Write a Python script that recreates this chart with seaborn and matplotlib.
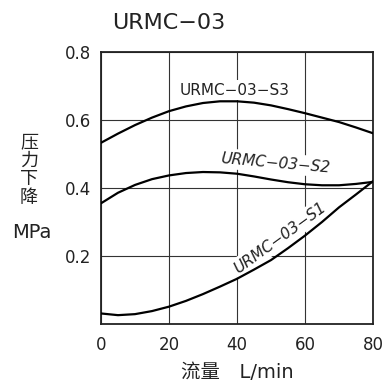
import numpy as np
import pandas as pd
import matplotlib
matplotlib.use("Agg")
import matplotlib.pyplot as plt
import seaborn as sns

# flow (L/min) and pressure drop (MPa)
flow = [0, 5, 10, 15, 20, 25, 30, 35, 40, 45, 50, 55, 60, 65, 70, 75, 80]
s3 = [0.533, 0.560, 0.585, 0.607, 0.626, 0.640, 0.650, 0.655, 0.655,
      0.651, 0.643, 0.632, 0.620, 0.607, 0.594, 0.578, 0.561]
s2 = [0.355, 0.386, 0.409, 0.426, 0.437, 0.444, 0.447, 0.446, 0.442,
      0.434, 0.425, 0.417, 0.411, 0.408, 0.408, 0.412, 0.418]
s1 = [0.031, 0.026, 0.029, 0.038, 0.051, 0.068, 0.088, 0.110, 0.133,
      0.160, 0.188, 0.223, 0.260, 0.300, 0.343, 0.381, 0.420]
series_names = ["URMC−03−S3", "URMC−03−S2", "URMC−03−S1"]
x_ticks = [0, 20, 40, 60, 80]
y_ticks = [0.2, 0.4, 0.6, 0.8]
ylabel_chars = ["压", "力", "下", "降"]

df = pd.DataFrame({
    "flow": flow * 3,
    "dp": s3 + s2 + s1,
    "series": [n for n in series_names for _ in flow],
})

sns.set_style("white")
plt.rcParams['font.family'] = ['DejaVu Sans', 'Noto Sans CJK SC']

fig = plt.figure(figsize=(3.84, 3.85), dpi=100)
ax = fig.add_axes([101 / 384, 61 / 385, 272 / 384, 272 / 385])

sns.lineplot(data=df, x="flow", y="dp", units="series", estimator=None,
             color="black", linewidth=1.6, ax=ax, zorder=3, legend=False)

ax.set_xlim(0, 80)
ax.set_ylim(0, 0.8)
ax.set_xticks(x_ticks)
ax.set_yticks(y_ticks)
ax.set_xticklabels([str(v) for v in x_ticks], fontsize=12, color="#222")
ax.set_yticklabels([f"{v:.1f}" for v in y_ticks], fontsize=12, color="#222")
ax.tick_params(length=0)
ax.tick_params(axis="x", pad=9)
ax.tick_params(axis="y", pad=7)
ax.set_axisbelow(True)
ax.grid(True, color="#333333", linewidth=0.8)
for sp in ax.spines.values():
    sp.set_color("#222")
    sp.set_linewidth(1.3)

ax.set_xlabel("")
ax.set_ylabel("")

box = dict(facecolor="white", edgecolor="none", pad=2)
ax.text(39.4, 0.688, series_names[0], fontsize=11, ha="center", va="center",
        color="#222", bbox=box, zorder=2.5)
ax.text(51.2, 0.474, series_names[1], fontsize=11, ha="center", va="center",
        rotation=-5, style="oblique", color="#222", bbox=box, zorder=2.5)
ax.text(52.6, 0.253, series_names[2], fontsize=11, ha="center", va="center",
        rotation=36, style="oblique", color="#222", bbox=box, zorder=2.5)

fig.text(169 / 384, 1 - 23 / 385, "URMC−03", fontsize=16, ha="center",
         va="center", color="#222")
# vertical stack of the CJK label, one glyph per row
for i, ch in enumerate(ylabel_chars):
    fig.text(29 / 384, 1 - (142 + 18.5 * i) / 385, ch, fontsize=13,
             ha="center", va="center", color="#222")
fig.text(32 / 384, 1 - 232 / 385, "MPa", fontsize=14, ha="center",
         va="center", color="#222")
fig.text(237 / 384, 1 - 372 / 385, "流量　L/min", fontsize=14, ha="center",
         va="center", color="#222")

fig.savefig("out.png", dpi=100)
